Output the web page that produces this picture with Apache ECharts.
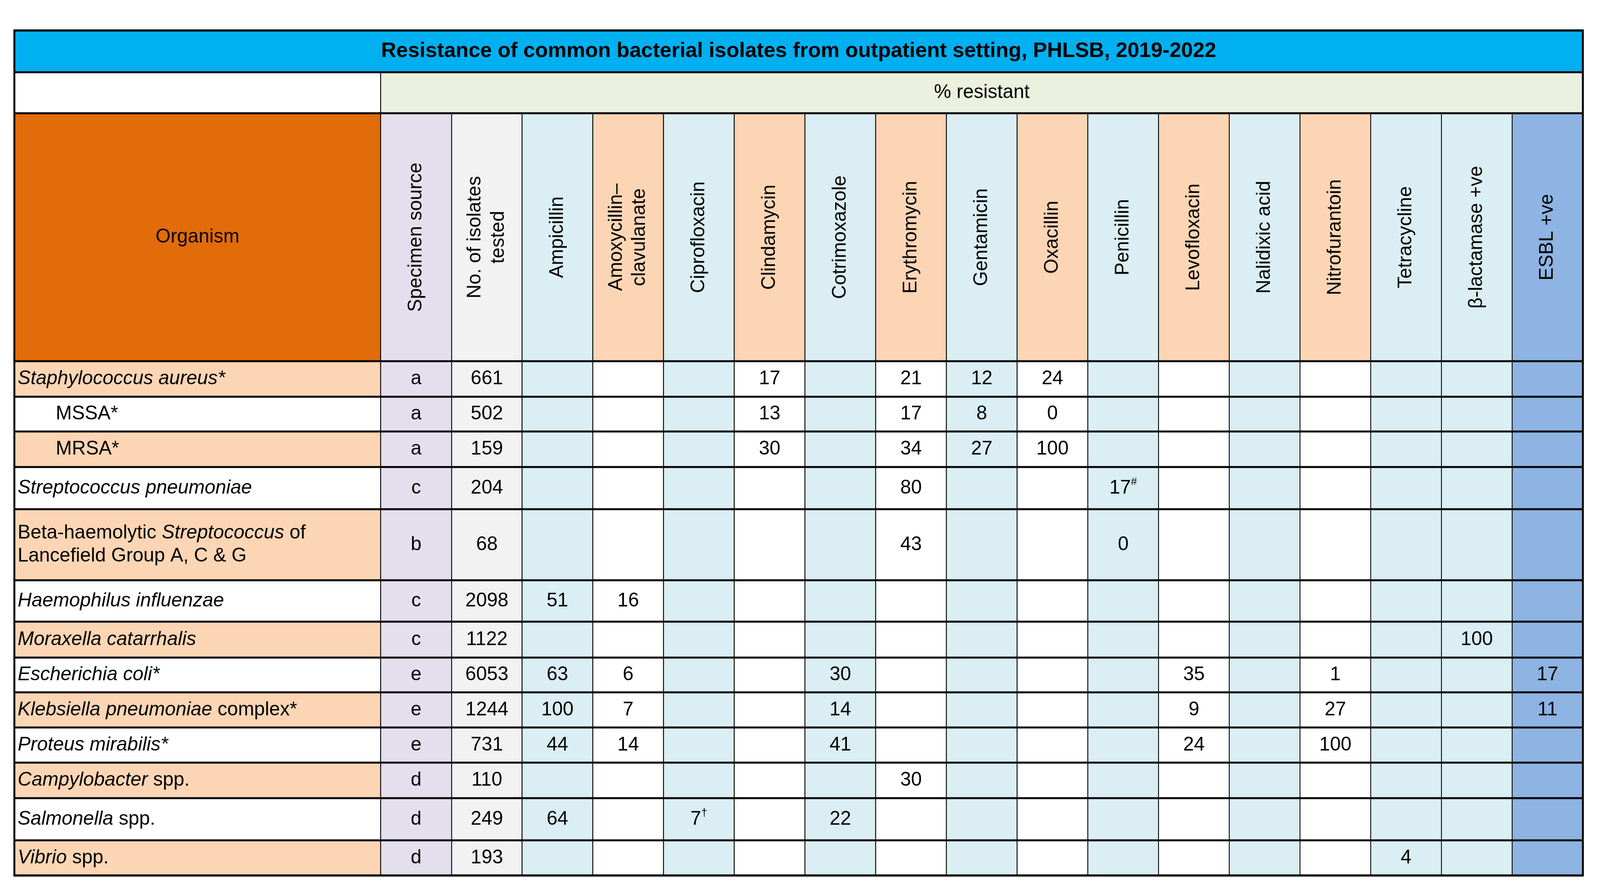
<!DOCTYPE html>
<html>
<head>
<meta charset="utf-8">
<script src="https://cdn.jsdelivr.net/npm/echarts@6/dist/echarts.min.js"></script>
<style>
html, body { margin: 0; padding: 0; background: #fff; overflow: hidden; }
#main { width: 100vw; height: 100vh; }
</style>
</head>
<body>
<div id="main"></div>
<script>
var title = 'Resistance of common bacterial isolates from outpatient setting, PHLSB, 2019-2022';
var subTitle = '% resistant';
// organism names, {i|...} = italic part
var organisms = [
    '{i|Staphylococcus aureus*}', 'MSSA*', 'MRSA*', '{i|Streptococcus pneumoniae}',
    'Beta-haemolytic {i|Streptococcus} of\nLancefield Group A, C & G',
    '{i|Haemophilus influenzae}', '{i|Moraxella catarrhalis}', '{i|Escherichia coli*}',
    '{i|Klebsiella pneumoniae} complex*', '{i|Proteus mirabilis*}', '{i|Campylobacter} spp.',
    '{i|Salmonella} spp.', '{i|Vibrio} spp.'
];
var indented = [false, true, true, false, false, false, false, false, false, false, false, false, false];
var specimen = ['a', 'a', 'a', 'c', 'b', 'c', 'c', 'e', 'e', 'e', 'd', 'd', 'd'];
var isolates = [661, 502, 159, 204, 68, 2098, 1122, 6053, 1244, 731, 110, 249, 193];
var drugs = ['Ampicillin', 'Amoxycillin–\nclavulanate', 'Ciprofloxacin', 'Clindamycin', 'Cotrimoxazole',
    'Erythromycin', 'Gentamicin', 'Oxacillin', 'Penicillin', 'Levofloxacin', 'Nalidixic acid',
    'Nitrofurantoin', 'Tetracycline', 'β-lactamase +ve', 'ESBL +ve'];
var ampicillin    = [null, null, null, null, null, 51, null, 63, 100, 44, null, 64, null];
var amoxyClav     = [null, null, null, null, null, 16, null, 6, 7, 14, null, null, null];
var ciprofloxacin = [null, null, null, null, null, null, null, null, null, null, null, '7{s|†}', null];
var clindamycin   = [17, 13, 30, null, null, null, null, null, null, null, null, null, null];
var cotrimoxazole = [null, null, null, null, null, null, null, 30, 14, 41, null, 22, null];
var erythromycin  = [21, 17, 34, 80, 43, null, null, null, null, null, 30, null, null];
var gentamicin    = [12, 8, 27, null, null, null, null, null, null, null, null, null, null];
var oxacillin     = [24, 0, 100, null, null, null, null, null, null, null, null, null, null];
var penicillin    = [null, null, null, '17{s|#}', 0, null, null, null, null, null, null, null, null];
var levofloxacin  = [null, null, null, null, null, null, null, 35, 9, 24, null, null, null];
var nalidixic     = [null, null, null, null, null, null, null, null, null, null, null, null, null];
var nitrofurantoin = [null, null, null, null, null, null, null, 1, 27, 100, null, null, null];
var tetracycline  = [null, null, null, null, null, null, null, null, null, null, null, null, 4];
var betaLactamase = [null, null, null, null, null, null, 100, null, null, null, null, null, null];
var esbl          = [null, null, null, null, null, null, null, 17, 11, null, null, null, null];
var drugValues = [ampicillin, amoxyClav, ciprofloxacin, clindamycin, cotrimoxazole, erythromycin,
    gentamicin, oxacillin, penicillin, levofloxacin, nalidixic, nitrofurantoin, tetracycline,
    betaLactamase, esbl];

// layout (reference pixels, 5792 x 2292)
var colEdges = [52, 1378, 1635, 1890];
for (var k = 1; k <= 15; k++) colEdges.push(1890 + 256 * k);
var rowEdges = [78, 185, 290, 925, 1016, 1105, 1196, 1304, 1486, 1592, 1684, 1773, 1863, 1953, 2044, 2152, 2242];

var BLUE = '#DAEEF3', PEACH = '#FCD5B4', ESBL = '#8DB4E2';
var headColors = [BLUE, PEACH, BLUE, PEACH, BLUE, PEACH, BLUE, PEACH, BLUE, PEACH, BLUE, PEACH, BLUE, BLUE, ESBL];
var bodyColors = [BLUE, '#fff', BLUE, '#fff', BLUE, '#fff', BLUE, '#fff', BLUE, '#fff', BLUE, '#fff', BLUE, BLUE, ESBL];
var FONT = '"Liberation Sans", Arial, sans-serif';

var el = document.getElementById('main');
// scale fonts and strokes to the actual container size
var S = Math.min(el.clientWidth / 5792, el.clientHeight / 2292);

var cells = [];
function addCell(c0, c1, r0, r1, fill, text, opt) {
    cells.push({ value: [c0, c1, r0, r1], fill: fill, text: text, opt: opt || {} });
}
addCell(0, 18, 0, 1, '#00B0F0', title, { bold: true, size: 76 });
addCell(0, 1, 1, 2, '#fff', '');
addCell(1, 18, 1, 2, '#EBF1DE', subTitle);
addCell(0, 1, 2, 3, '#E26B0A', 'Organism');
addCell(1, 2, 2, 3, '#E4DFEC', 'Specimen source', { rotate: true });
addCell(2, 3, 2, 3, '#F2F2F2', 'No. of isolates\ntested', { rotate: true });
drugs.forEach(function (d, j) {
    addCell(3 + j, 4 + j, 2, 3, headColors[j], d, { rotate: true });
});
organisms.forEach(function (name, i) {
    var r = 3 + i;
    addCell(0, 1, r, r + 1, i % 2 === 0 ? PEACH : '#fff', name, { left: true, indent: indented[i] });
    addCell(1, 2, r, r + 1, '#E4DFEC', specimen[i]);
    addCell(2, 3, r, r + 1, '#F2F2F2', String(isolates[i]));
    drugValues.forEach(function (vals, j) {
        var v = vals[i];
        addCell(3 + j, 4 + j, r, r + 1, bodyColors[j], v === null ? '' : String(v));
    });
});

var rich = {
    i: { fontStyle: 'italic', fontSize: 70 * S, fontFamily: FONT, lineHeight: 84 * S, color: '#000' },
    s: { fontSize: 40 * S, fontFamily: FONT, verticalAlign: 'top', padding: [0, 0, 40 * S, 0], color: '#000' }
};

function renderCell(params, api) {
    var cell = cells[params.dataIndex];
    var p0 = api.coord([colEdges[api.value(0)], rowEdges[api.value(2)]]);
    var p1 = api.coord([colEdges[api.value(1)], rowEdges[api.value(3)]]);
    var o = cell.opt;
    var cx = (p0[0] + p1[0]) / 2, cy = (p0[1] + p1[1]) / 2;
    return {
        type: 'group',
        children: [{
            type: 'rect',
            shape: { x: p0[0], y: p0[1], width: p1[0] - p0[0], height: p1[1] - p0[1] },
            style: { fill: cell.fill, stroke: '#000', lineWidth: 3 * S }
        }, {
            type: 'text',
            x: o.left ? p0[0] + (o.indent ? 150 : 12) * S : cx,
            y: cy,
            rotation: o.rotate ? Math.PI / 2 : 0,
            style: {
                text: cell.text,
                fill: '#000',
                fontFamily: FONT,
                fontSize: (o.size || 70) * S,
                fontWeight: o.bold ? 'bold' : 'normal',
                lineHeight: 84 * S,
                align: o.left ? 'left' : 'center',
                verticalAlign: 'middle',
                rich: rich
            }
        }]
    };
}

// thick horizontal rules at every row boundary
var ruleRows = [];
for (var r = 0; r < rowEdges.length; r++) ruleRows.push([r]);

function renderRule(params, api) {
    var r = api.value(0);
    var a = api.coord([colEdges[0], rowEdges[r]]);
    var b = api.coord([colEdges[colEdges.length - 1], rowEdges[r]]);
    return {
        type: 'line',
        shape: { x1: a[0], y1: a[1], x2: b[0], y2: b[1] },
        style: { stroke: '#000', lineWidth: 7 * S }
    };
}

var chart = echarts.init(el);
chart.setOption({
    animation: false,
    grid: { left: 0, right: 0, top: 0, bottom: 0 },
    xAxis: { type: 'value', min: 0, max: 5792, show: false },
    yAxis: { type: 'value', min: 0, max: 2292, inverse: true, show: false },
    series: [{
        type: 'custom',
        clip: false,
        renderItem: renderCell,
        data: cells.map(function (c) { return c.value; })
    }, {
        type: 'custom',
        clip: false,
        renderItem: renderRule,
        data: ruleRows
    }, {
        type: 'custom',
        clip: false,
        renderItem: function (params, api) {
            var a = api.coord([colEdges[0], rowEdges[0]]);
            var b = api.coord([colEdges[colEdges.length - 1], rowEdges[rowEdges.length - 1]]);
            return {
                type: 'rect',
                shape: { x: a[0], y: a[1], width: b[0] - a[0], height: b[1] - a[1] },
                style: { fill: 'none', stroke: '#000', lineWidth: 7 * S }
            };
        },
        data: [[0]]
    }]
});
</script>
</body>
</html>
